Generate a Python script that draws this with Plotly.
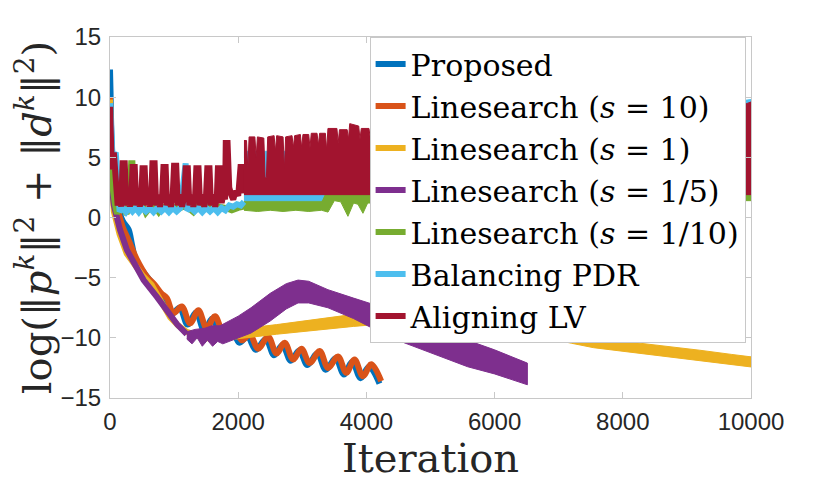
import plotly.graph_objects as go

# axis ticks
x_ticks = [0, 2000, 4000, 6000, 8000, 10000]
x_tick_labels = ['0', '2000', '4000', '6000', '8000', '10000']
y_ticks = [-15, -10, -5, 0, 5, 10, 15]

# Proposed
proposed_x = [0, 8, 25, 60, 120, 200, 290, 345, 400, 545, 650, 760, 850, 950, 1085, 1210, 1345, 1470, 1600,
              1730, 1885, 2015, 2145, 2275, 2430, 2560, 2690, 2820, 2950, 3080, 3235, 3365, 3520, 3650, 3780,
              3910, 4040, 4204]
proposed_y = [12.3, 10.5, 6.5, 3.2, 1.0, -0.3, -1.0, -2.3, -3.5, -4.7, -5.4, -6.3, -7.0, -8.1, -7.5, -8.9, -7.9,
              -9.4, -8.4, -9.7, -9.1, -10.4, -9.9, -11.0, -10.1, -11.45, -10.6, -11.9, -11.05, -12.25, -11.3,
              -12.65, -11.7, -13.05, -12.0, -13.35, -12.4, -13.8]

# Linesearch (s = 10)
ls10_x = [0, 15, 40, 100, 200, 300, 420, 575, 700, 800, 886, 990, 1120, 1249, 1379, 1508, 1638, 1768, 1923,
          2053, 2182, 2312, 2468, 2597, 2726, 2857, 2986, 3115, 3271, 3401, 3557, 3686, 3815, 3946, 4075, 4230]
ls10_y = [10.0, 6.0, 3.5, 1.2, -0.8, -2.0, -3.5, -4.9, -5.6, -6.3, -6.7, -7.95, -7.4, -8.8, -7.7, -9.2, -8.2,
          -9.5, -8.9, -10.2, -9.75, -10.9, -9.9, -11.3, -10.4, -11.8, -10.9, -12.1, -11.1, -12.5, -11.55, -12.9,
          -11.8, -13.2, -12.2, -13.6]

# Linesearch (s = 1): thin start, then a thick oscillation band
ls1_x = [0, 20, 60, 150, 260, 400, 520, 650, 808, 940, 1067, 1197, 1350, 1500]
ls1_y = [9.8, 3.5, 0.5, -1.4, -3.0, -4.1, -4.9, -5.6, -7.2, -8.3, -9.0, -9.5, -9.8, -10.0]
ls1_band_x = [1500, 1790, 2200, 2600, 3000, 3400, 3800, 4386, 4800, 5200, 5600, 6000, 6400, 6800, 7200, 7545,
              8000, 8585, 9200, 9700, 10000]
ls1_top = [-9.75, -9.5, -9.15, -8.9, -8.6, -8.35, -8.05, -7.7, -7.45, -7.4, -7.6, -8.1, -8.6, -9.0, -9.55,
           -9.98, -10.28, -10.63, -11.03, -11.38, -11.58]
ls1_bot = [-10.25, -10.2, -9.95, -9.7, -9.5, -9.25, -9.05, -8.8, -8.55, -8.4, -8.6, -9.1, -9.6, -10.0, -10.45,
           -10.82, -11.12, -11.47, -11.87, -12.22, -12.42]

# Linesearch (s = 1/5)
ls5_x = [0, 20, 60, 155, 264, 368, 524, 731, 900, 1050, 1197]
ls5_y = [9.0, 3.0, 1.0, -1.0, -2.7, -3.8, -5.2, -6.6, -7.8, -8.9, -9.7]
ls5_top_x = [1197, 1327, 1483, 1586, 1716, 1790, 2000, 2200, 2500, 2750, 2934, 3100, 3400, 3800, 4386, 5000,
             5578, 6000, 6511]
ls5_top_y = [-9.5, -9.3, -9.2, -9.0, -9.0, -8.8, -8.2, -7.5, -6.3, -5.5, -5.2, -5.3, -6.0, -6.7, -7.7, -8.95,
             -10.2, -11.0, -12.1]
ls5_bot_x = [1197, 1280, 1360, 1440, 1520, 1600, 1680, 1760, 1850, 2000, 2200, 2500, 2750, 2934, 3100, 3400,
             3800, 4386, 5000, 5578, 6000, 6511]
ls5_bot_y = [-10.1, -10.5, -10.0, -10.7, -10.2, -10.7, -10.3, -10.5, -10.3, -10.0, -9.6, -8.6, -7.6, -7.1, -7.1,
             -7.5, -8.4, -10.0, -11.25, -12.4, -13.0, -13.9]

# Linesearch (s = 1/10)
ls10th_x = [0, 15, 40, 80, 110, 140, 200, 260, 300, 330, 350, 375, 420, 470, 520, 560, 620, 700, 760, 820, 900,
            980, 1060, 1140, 1220, 1300, 1360, 1450, 1530, 1600, 1700, 1800, 1900, 2000, 2090]
ls10th_y = [9.0, 5.0, 2.5, 1.0, 0.3, 0.8, 0.7, 0.3, 1.5, 4.5, 4.5, 0.8, 0.9, 0.7, 0.9, 0.4, 0.8, 0.9, 0.45, 0.9,
            0.8, 0.9, 0.7, 0.9, 0.8, 0.45, 0.9, 0.8, 0.9, 0.7, 0.9, 0.8, 0.6, 0.8, 0.9]
ls10th_top_x = [2090, 10000]
ls10th_top_y = [2.0, 2.0]
ls10th_bot_x = [2090, 2300, 2500, 2700, 2900, 3100, 3300, 3401, 3500, 3600, 3712, 3800, 3868, 3946, 4020, 4101,
                4179, 4277, 4334, 4400, 9900, 10000]
ls10th_bot_y = [0.6, 0.5, 0.6, 0.5, 0.6, 0.5, 0.6, 0.45, 1.4, 1.3, 0.1, 1.2, 1.1, 0.35, 1.2, 1.2, 0.1, 1.1, 0.35,
                1.0, 1.4, 1.4]

# Balancing PDR
pdr_x = [0, 15, 40, 90, 120, 150, 200, 250, 300, 350, 400, 450, 500, 560, 620, 680, 740, 800, 860, 920, 980,
         1040, 1100, 1160, 1180, 1205, 1260, 1320, 1380, 1440, 1500, 1560, 1620, 1680, 1740, 1800, 1860, 1920,
         1980, 2040, 2090]
pdr_y = [9.5, 6.0, 5.0, 5.4, 2.0, 0.5, 0.8, 0.45, 0.8, 0.5, 0.8, 0.45, 0.8, 0.5, 0.8, 0.45, 0.8, 0.5, 0.8, 0.45,
         0.8, 0.5, 0.8, 4.5, 4.5, 0.6, 0.8, 0.5, 0.8, 0.45, 0.8, 0.5, 0.8, 0.45, 0.8, 0.6, 1.0, 0.9, 1.1, 1.0, 1.3]
pdr_top_x = [2090, 2600, 2660, 2690, 3000, 3500, 4000, 4290, 4310, 4400, 10000]
pdr_top_y = [5.5, 5.5, 5.0, 5.5, 5.5, 5.8, 6.0, 7.8, 6.0, 6.0, 9.8]
pdr_bot_x = [2090, 3300, 3350, 10000]
pdr_bot_y = [1.4, 1.4, 2.0, 2.0]

# Aligning LV
lv_x = [0, 12, 30, 60, 90, 120, 150, 175, 196, 230, 255, 282, 310, 332, 352, 386, 410, 437, 465, 487, 507, 541,
        565, 592, 620, 642, 662, 696, 720, 748, 780, 812, 834, 868, 890, 918, 950, 977, 999, 1033, 1058, 1092,
        1125, 1157, 1180, 1214, 1238, 1267, 1300, 1327, 1347, 1381, 1405, 1437, 1470, 1497, 1518, 1552, 1575,
        1607, 1640, 1667, 1683, 1717, 1742, 1770, 1795, 1806, 1834, 1860, 1890, 1923, 1960, 2000, 2036, 2070, 2090]
lv_y = [9.2, 6.5, 4.0, 5.4, 2.5, 1.0, 1.8, 0.9, 4.5, 4.5, 1.0, 1.9, 0.9, 1.7, 4.2, 4.2, 1.0, 1.9, 0.9, 1.7, 4.1,
        4.1, 1.0, 1.9, 0.9, 1.7, 4.5, 4.5, 1.0, 1.9, 0.9, 1.7, 4.2, 4.2, 1.0, 1.9, 0.9, 1.7, 4.3, 4.3, 1.0, 1.9,
        0.9, 1.7, 4.1, 4.1, 1.0, 1.9, 0.9, 1.7, 4.1, 4.1, 1.0, 1.9, 0.9, 1.7, 4.1, 4.1, 1.0, 1.9, 0.9, 1.7, 4.1,
        4.1, 1.2, 2.0, 1.5, 6.2, 6.2, 2.5, 1.9, 1.5, 2.2, 1.8, 4.2, 4.2, 2.0]
lv_top_x = [2090, 2130, 2150, 2170, 2260, 2280, 2300, 2400, 2420, 2440, 2460, 2560, 2580, 2600, 2700, 2720, 2740,
            2840, 2860, 2880, 2970, 2990, 3010, 3100, 3120, 3140, 3230, 3250, 3270, 3360, 3380, 3400, 3540, 3560,
            3580, 3700, 3720, 3740, 3880, 3900, 3920, 4040, 4060, 4080, 4240, 4260, 4280, 4400, 5000, 6000, 7000,
            8000, 9000, 9900, 10000]
lv_top_y = [6.4, 6.4, 4.0, 6.7, 6.7, 5.0, 6.7, 6.6, 3.3, 3.3, 6.7, 6.8, 5.5, 6.8, 6.7, 4.0, 6.7, 6.8, 5.8, 6.8,
            6.9, 5.8, 6.9, 6.9, 5.8, 7.0, 7.0, 6.0, 7.0, 7.0, 5.6, 7.4, 7.4, 6.2, 7.3, 7.3, 6.5, 7.8, 7.6, 6.5, 7.4,
            7.4, 6.6, 7.9, 7.7, 6.8, 7.4, 7.4, 7.8, 8.0, 8.3, 8.6, 9.0, 9.4, 9.6]
lv_bot_x = [2090, 10000]
lv_bot_y = [1.9, 1.9]

colors = {
    'Proposed': '#0072BD',
    'ls10': '#D95319',
    'ls1': '#EDB120',
    'ls5': '#7E2F8E',
    'ls10th': '#77AC30',
    'pdr': '#4DBEEE',
    'lv': '#A2142F',
}

fig = go.Figure()


def add_line(name, x, y, color, shape='linear'):
    fig.add_trace(go.Scatter(x=x, y=y, mode='lines', name=name,
                             line=dict(color=color, width=6, shape=shape)))


def add_band(tx, ty, bx, by, color):
    # dense oscillation drawn as a filled band between its envelopes
    fig.add_trace(go.Scatter(x=tx + bx[::-1], y=ty + by[::-1], mode='lines', fill='toself',
                             fillcolor=color, line=dict(color=color, width=1),
                             showlegend=False, hoverinfo='skip'))


add_line('Proposed', proposed_x, proposed_y, colors['Proposed'], 'spline')
add_line('Linesearch (<i>s</i> = 10)', ls10_x, ls10_y, colors['ls10'], 'spline')
add_line('Linesearch (<i>s</i> = 1)', ls1_x, ls1_y, colors['ls1'])
add_band(ls1_band_x, ls1_top, ls1_band_x, ls1_bot, colors['ls1'])
add_line('Linesearch (<i>s</i> = 1/5)', ls5_x, ls5_y, colors['ls5'])
add_band(ls5_top_x, ls5_top_y, ls5_bot_x, ls5_bot_y, colors['ls5'])
add_line('Linesearch (<i>s</i> = 1/10)', ls10th_x, ls10th_y, colors['ls10th'])
add_band(ls10th_top_x, ls10th_top_y, ls10th_bot_x, ls10th_bot_y, colors['ls10th'])
add_line('Balancing PDR', pdr_x, pdr_y, colors['pdr'])
add_band(pdr_top_x, pdr_top_y, pdr_bot_x, pdr_bot_y, colors['pdr'])
add_line('Aligning LV', lv_x, lv_y, colors['lv'])
add_band(lv_top_x, lv_top_y, lv_bot_x, lv_bot_y, colors['lv'])

axis_style = dict(
    showline=True,
    linecolor='#c8c8c8',
    linewidth=1,
    mirror='ticks',
    ticks='inside',
    ticklen=6,
    tickcolor='#c8c8c8',
    showgrid=False,
    zeroline=False,
    tickfont=dict(family='Liberation Sans', size=24, color='#262626'),
)

fig.update_xaxes(range=[0, 10000], tickvals=x_ticks, ticktext=x_tick_labels, ticklabelstandoff=2,
                 title=dict(text='Iteration', standoff=6,
                            font=dict(family='DejaVu Serif', size=40, color='#262626')),
                 **axis_style)
fig.update_yaxes(range=[-15, 15], tickvals=y_ticks, ticklabelstandoff=3,
                 title=dict(text='log(‖<i>p</i><sup><i>k</i></sup>‖<sup>2</sup> + ‖<i>d</i><sup><i>k</i></sup>‖<sup>2</sup>)',
                            standoff=12,
                            font=dict(family='DejaVu Serif', size=40, color='#262626')),
                 **axis_style)

# the page body adds an 8px margin, so the figure is 8px smaller and margins shifted
fig.update_layout(
    width=822,
    height=483,
    autosize=False,
    margin=dict(l=100, r=79, t=29, b=93),
    plot_bgcolor='white',
    paper_bgcolor='white',
    showlegend=True,
    legend=dict(x=0.405, y=1.0, xanchor='left', yanchor='top',
                bgcolor='white', bordercolor='#c8c8c8', borderwidth=1,
                font=dict(family='DejaVu Serif', size=30, color='black'),
                itemwidth=30, tracegroupgap=0),
)

fig.write_html("out.html")
